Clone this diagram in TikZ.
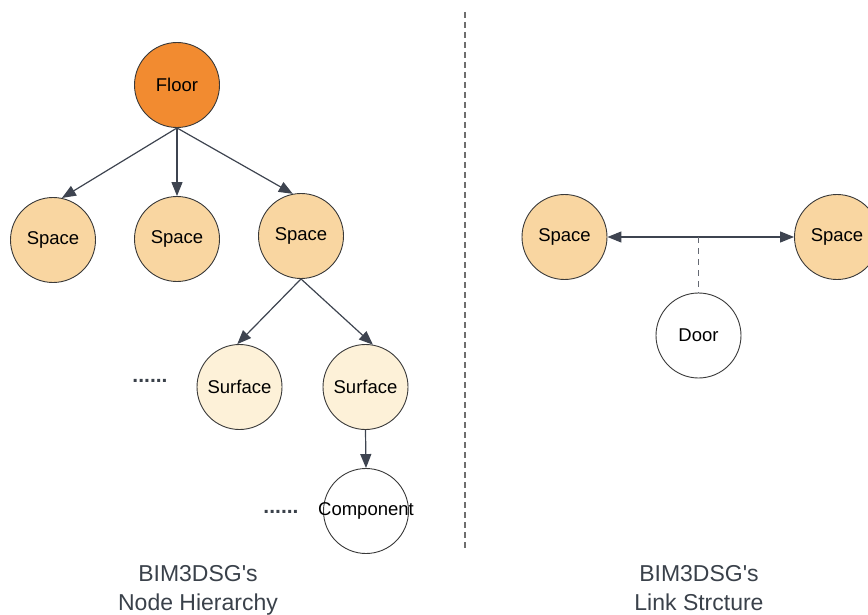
\documentclass[tikz,border=0pt]{standalone}
\usepackage{fontspec}
\setmainfont{Liberation Sans}
\usetikzlibrary{arrows.meta}

\definecolor{floorfill}{HTML}{F28B30}
\definecolor{spacefill}{HTML}{F9D6A1}
\definecolor{surfacefill}{HTML}{FDF1D8}
\definecolor{outline}{HTML}{3A3A3A}
\definecolor{linkgray}{HTML}{3E4450}
\definecolor{captiongray}{HTML}{3A414A}
\definecolor{divider}{HTML}{6E6E6E}

\tikzset{
  bubble/.style={circle, draw=outline, line width=0.9pt, minimum size=85pt,
    inner sep=0pt, font=\fontsize{18.5}{20}\selectfont, text=black},
  floornode/.style={bubble, fill=floorfill},
  spacenode/.style={bubble, fill=spacefill},
  surfacenode/.style={bubble, fill=surfacefill},
  plainnode/.style={bubble, fill=white},
  link/.style={draw=linkgray, line width=1.2pt, -{Triangle[length=14pt,width=11pt]}},
  twoway/.style={draw=linkgray, line width=1.2pt,
    {Triangle[length=14pt,width=11pt]}-{Triangle[length=14pt,width=11pt]}},
  doorlink/.style={draw=linkgray!80, line width=1pt, dash pattern=on 6pt off 5pt},
  ellipsis/.style={font=\fontsize{21}{22}\bfseries\selectfont, text=captiongray, inner sep=0pt},
  caption/.style={font=\fontsize{23}{29}\selectfont,
    text=captiongray, align=center, inner sep=0pt, anchor=north}
}

\begin{document}
\begin{tikzpicture}[x=1pt, y=-1pt]
  \useasboundingbox (0,0) rectangle (868,615);

  % divider between the two panels
  \coordinate (divtop) at (465,12);
  \coordinate (divbot) at (465,548);
  \draw[divider, line width=1.2pt, dash pattern=on 6pt off 4pt] (divtop) -- (divbot);

  % ---- node hierarchy ----
  \node[floornode]   (floor) at (177,85)  {Floor};
  \node[spacenode]   (s1)    at (53,240)  {Space};
  \node[spacenode]   (s2)    at (177,239) {Space};
  \node[spacenode]   (s3)    at (301,236) {Space};
  \node[surfacenode] (sf1)   at (239.5,387) {Surface};
  \node[surfacenode] (sf2)   at (365.5,387) {Surface};
  \node[plainnode]   (comp)  at (366,511) {\makebox[0pt]{Component}};

  \node[ellipsis] (dots1) at (150,381) {......};
  \node[ellipsis] (dots2) at (281,512) {......};

  \draw[link] (floor.south) -- (s1.78);
  \draw[link] (floor.south) -- (s2.north);
  \draw[link] (floor.south) -- (s3.101);
  \draw[link] (s3.south) -- (sf1.93);
  \draw[link] (s3.south) -- (sf2.80);
  \draw[link] (sf2.south) -- (comp.north);

  % ---- link structure ----
  \node[spacenode] (ls1)  at (564.5,237) {Space};
  \node[spacenode] (ls2)  at (837,237)   {Space};
  \node[plainnode] (door) at (698.5,335.5) {Door};

  \draw[twoway] (ls1.east) -- (ls2.west);
  \coordinate (junction) at (door.north |- ls1.east);
  \draw[doorlink] (junction) -- (door.north);

  % ---- captions ----
  \node[caption] (cap1) at (198,565) {BIM3DSG\textquotesingle s\\Node Hierarchy};
  \node[caption] (cap2) at (699,565) {BIM3DSG\textquotesingle s\\Link Strcture};
\end{tikzpicture}
\end{document}
